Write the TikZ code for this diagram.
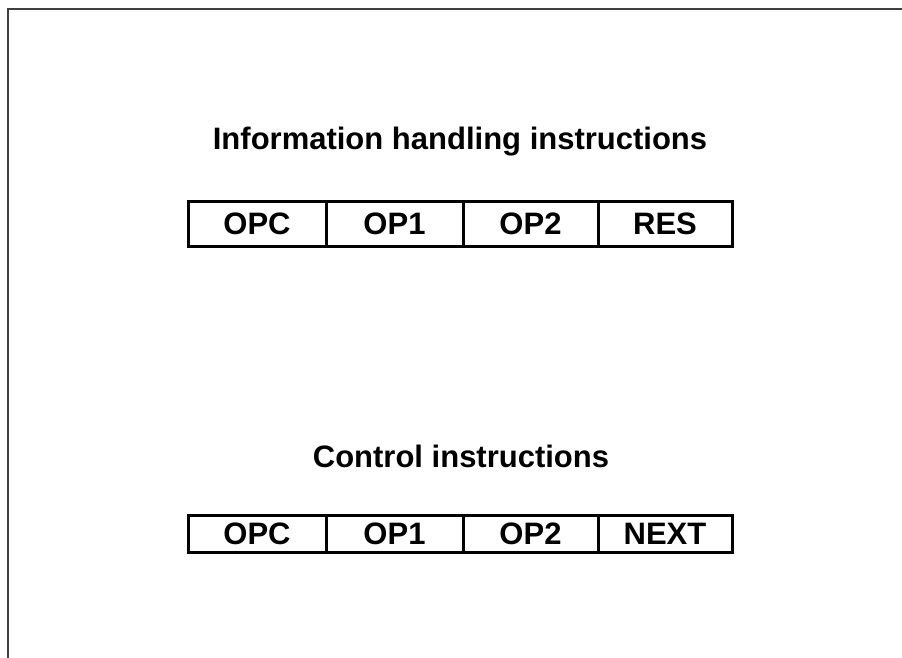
\documentclass[tikz,border=0pt]{standalone}
\usepackage{fontspec}
\setmainfont{Liberation Sans}
\begin{document}
\begin{tikzpicture}[x=1pt,y=-1pt,
  bigfont/.style={font=\bfseries\fontsize{31}{36}\selectfont},
  cell/.style={draw=black, line width=3pt, inner sep=0pt, bigfont},
  toprow/.style={cell, minimum height=45pt},
  botrow/.style={cell, minimum height=37pt},
  title/.style={bigfont, anchor=base, inner sep=0pt}]
\useasboundingbox (0,0) rectangle (902,657);
\fill[white] (0,0) rectangle (902,657);
\coordinate (bl) at (8,662);
\coordinate (tl) at (8,8.5);
\coordinate (tr) at (908,8.5);
\draw[line width=2pt, draw=black!75] (bl) -- (tl) -- (tr);

\node[title] (t1) at (460,149) {Information handling instructions};
\node[toprow, minimum width=138pt] (a1) at (257,223.5) {OPC};
\node[toprow, minimum width=137pt] (a2) at (394.5,223.5) {OP1};
\node[toprow, minimum width=135pt] (a3) at (530.5,223.5) {OP2};
\node[toprow, minimum width=134pt] (a4) at (665,223.5) {RES};

\node[title] (t2) at (461,467) {Control instructions};
\node[botrow, minimum width=138pt] (b1) at (257,533.5) {OPC};
\node[botrow, minimum width=137pt] (b2) at (394.5,533.5) {OP1};
\node[botrow, minimum width=135pt] (b3) at (530.5,533.5) {OP2};
\node[botrow, minimum width=134pt] (b4) at (665,533.5) {NEXT};
\end{tikzpicture}
\end{document}
